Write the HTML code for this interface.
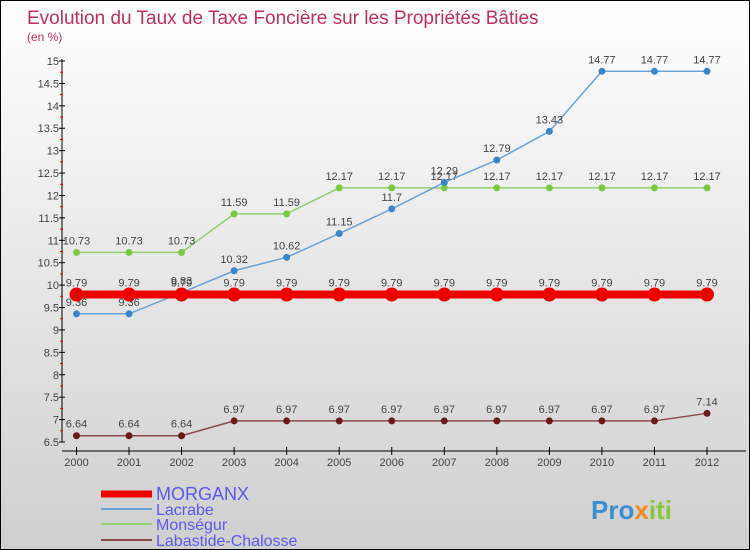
<!DOCTYPE html>
<html><head><meta charset="utf-8"><style>
body{margin:0}
#c{width:750px;height:550px;position:relative;box-sizing:border-box;border:1px solid #000;background:linear-gradient(#fff,#cfcfcf);font-family:"Liberation Sans",sans-serif;overflow:hidden}
svg text{font-family:"Liberation Sans",sans-serif}
</style></head><body>
<div id="c">
<svg id="s" width="750" height="550">
<text x="26" y="23" font-size="19" fill="#c0305e">Evolution du Taux de Taxe Foncière sur les Propriétés Bâties</text>
<text x="26" y="40" font-size="12" fill="#c0305e">(en %)</text>
<text x="590" y="518" font-size="26" font-weight="bold" fill="#3a8fd0">Pro<tspan fill="#f08a1a">x</tspan><tspan fill="#8cc63f">iti</tspan></text>
</svg>
</div>
<script>
const years=[2000,2001,2002,2003,2004,2005,2006,2007,2008,2009,2010,2011,2012];
const morganx=[9.79,9.79,9.79,9.79,9.79,9.79,9.79,9.79,9.79,9.79,9.79,9.79,9.79];
const lacrabe=[9.36,9.36,9.83,10.32,10.62,11.15,11.7,12.29,12.79,13.43,14.77,14.77,14.77];
const monsegur=[10.73,10.73,10.73,11.59,11.59,12.17,12.17,12.17,12.17,12.17,12.17,12.17,12.17];
const labastide=[6.64,6.64,6.64,6.97,6.97,6.97,6.97,6.97,6.97,6.97,6.97,6.97,7.14];
const yTicks=[6.5,7,7.5,8,8.5,9,9.5,10,10.5,11,11.5,12,12.5,13,13.5,14,14.5,15];
const NS='http://www.w3.org/2000/svg';
const s=document.getElementById('s');
const X=i=>75.5+i*(706-75.5)/12;
const Y=v=>60+(15-v)*(441-60)/8.5;
function el(t,a,p){const e=document.createElementNS(NS,t);for(const k in a)e.setAttribute(k,a[k]);(p||s).appendChild(e);return e;}
// axes
const ax=el('g',{});


el('line',{x1:61,y1:58,x2:61,y2:441,stroke:'#000'},ax);
el('line',{x1:61,y1:450,x2:745,y2:450,stroke:'#000'},ax);
yTicks.forEach(v=>{
 const y=Y(v);
 el('line',{x1:58,y1:y,x2:64,y2:y,stroke:'#000'},ax);
 if(v<15)el('line',{x1:59,y1:Y(v+0.25),x2:62,y2:Y(v+0.25),stroke:'#e00'},ax);
 const t=el('text',{x:58,y:y+4,'font-size':11,fill:'#444','text-anchor':'end'},ax);
 t.textContent=String(v);
 
 
});
years.forEach((yr,i)=>{
 el('line',{x1:X(i),y1:446,x2:X(i),y2:454,stroke:'#000'},ax);
 const t=el('text',{x:X(i),y:465,'font-size':11,fill:'#444','text-anchor':'middle'},ax);
 t.textContent=yr;
 
 
});
function series(vals,color,w,r,dot,name){
 const g=el('g',{});
 
 
 el('polyline',{points:vals.map((v,i)=>X(i)+','+Y(v)).join(' '),fill:'none',stroke:color,'stroke-width':w},g);
 vals.forEach((v,i)=>{
  const c=el('circle',{cx:X(i),cy:Y(v),r:r,fill:dot},g);
  
  
  const t=el('text',{x:X(i),y:Y(v)-8,'font-size':11,fill:'#444','text-anchor':'middle'},g);
  t.textContent=v;
  
  
 });
}
series(labastide,'#8b4a4a',1.5,3.5,'#6b1a1a','labastide');
series(monsegur,'#90d070',1.5,3.5,'#7ac943','monsegur');
series(lacrabe,'#6aa3d8',1.5,3.5,'#3a84c8','lacrabe');
series(morganx,'#ee0000',8,7,'#ee0000','morganx');
const lg=[['MORGANX','#ee0000',7,493,18],['Lacrabe','#6aa3d8',2,508,16],['Monségur','#90d070',2,523,16],['Labastide-Chalosse','#8b4a4a',2,539,16]];
lg.forEach(l=>{
 const g=el('g',{});
 
 
 el('line',{x1:100,y1:l[3],x2:151,y2:l[3],stroke:l[1],'stroke-width':l[2]},g);
 const t=el('text',{x:155,y:l[3]+6,'font-size':l[4],fill:'#5a5aee'},g);
 t.textContent=l[0];
});
</script>
</body></html>
